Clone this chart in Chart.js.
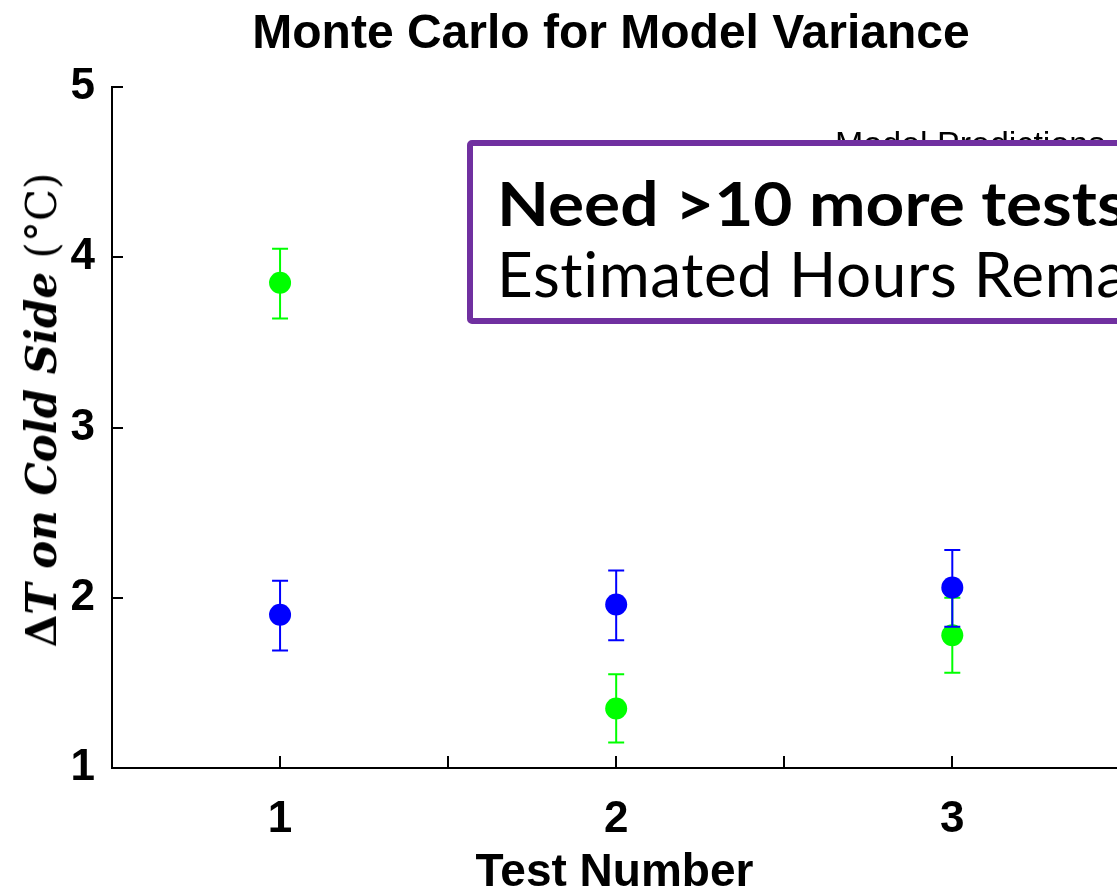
<!DOCTYPE html>
<html>
<head>
<meta charset="utf-8">
<title>Monte Carlo for Model Variance</title>
<script src="https://cdn.jsdelivr.net/npm/chart.js@4/dist/chart.umd.min.js"></script>
<style>
  html, body { margin: 0; padding: 0; background: #fff; overflow: hidden; }
  #wrap { position: relative; width: 1117px; height: 892px; overflow: hidden; }
  #chart { position: absolute; left: 0; top: 0; }
  .title {
    position: absolute; left: 611px; top: 8px; transform: translateX(-50%);
    font: bold 48px 'Liberation Sans', Arial, sans-serif; line-height: 1;
    white-space: nowrap; color: #000;
  }
  .ylab {
    position: absolute; left: 42px; top: 410px;
    transform: translate(-50%, -50%) rotate(-90deg);
    font: 42px 'DejaVu Serif', serif; line-height: 1; white-space: nowrap; color: #000;
  }
  .legendText {
    position: absolute; left: 835px; top: 126px; z-index: 1;
    font: 34px 'Liberation Sans', Arial, sans-serif; line-height: 1; white-space: nowrap;
  }
  .note {
    position: absolute; left: 467px; top: 140px; width: 900px; height: 184px; z-index: 2;
    box-sizing: border-box; border: 6px solid #7030a0; border-radius: 5px; background: #fff;
  }
  .note div {
    position: absolute; left: 24px; white-space: nowrap; color: #000;
    font-family: Lato, 'Open Sans', sans-serif; font-size: 62px; line-height: 1;
    transform-origin: left top;
  }
  .note .l1 { top: 25px; font-weight: bold; transform: scaleX(1.09); }
  .note .l2 { top: 96px; font-weight: normal; letter-spacing: 0.6px; }
</style>
</head>
<body>
<div id="wrap">
  <canvas id="chart" width="1117" height="892"></canvas>
  <div class="title">Monte Carlo for Model Variance</div>
  <div class="ylab"><b>Δ</b><b><i>T on Cold Side</i></b> (°C)</div>
  <div class="legendText">Model Predictions</div>
  <div class="note">
    <div class="l1">Need &gt;10 more tests</div>
    <div class="l2">Estimated Hours Remaining</div>
  </div>
</div>
<script>
// Data
const tests = [1, 2, 3];

const modelMean = [1.90, 1.96, 2.06];
const modelLow = [1.69, 1.75, 1.83];
const modelHigh = [2.10, 2.16, 2.28];

const testMean = [3.85, 1.35, 1.78];
const testLow = [3.64, 1.15, 1.56];
const testHigh = [4.05, 1.55, 2.00];

const xTickLabels = [1, 2, 3];
const xTickMarks = [1, 1.5, 2, 2.5, 3, 3.5];
const yTickLabels = [1, 2, 3, 4, 5];

// Colors
const blueColor = '#0000ff',
	greenColor = '#00ff00',
	axisColor = '#000000';

const tickFont = { family: "'Liberation Sans', Arial, sans-serif", size: 44, weight: 'bold' };

// error bars, drawn just before each dataset's markers
const errorBars = {
	id: 'errorBars',
	beforeDatasetDraw(chart, args) {
		const ds = chart.data.datasets[args.index];
		const { ctx, scales: { x, y } } = chart;
		ctx.save();
		ctx.strokeStyle = ds.borderColor;
		ctx.lineWidth = 2;
		ctx.beginPath();
		tests.forEach(function(t, i) {
			const px = x.getPixelForValue(t);
			const top = y.getPixelForValue(ds.errHigh[i]);
			const bot = y.getPixelForValue(ds.errLow[i]);
			ctx.moveTo(px, top);
			ctx.lineTo(px, bot);
			ctx.moveTo(px - 8, top);
			ctx.lineTo(px + 8, top);
			ctx.moveTo(px - 8, bot);
			ctx.lineTo(px + 8, bot);
		});
		ctx.stroke();
		ctx.restore();
	}
};

// tick marks pointing into the plot, like MATLAB
const innerTicks = {
	id: 'innerTicks',
	afterDatasetsDraw(chart) {
		const { ctx, chartArea, scales: { x, y } } = chart;
		ctx.save();
		ctx.strokeStyle = axisColor;
		ctx.lineWidth = 2;
		ctx.beginPath();
		xTickMarks.forEach(function(v) {
			const px = Math.round(x.getPixelForValue(v));
			if (px > chartArea.right) return;
			ctx.moveTo(px, chartArea.bottom);
			ctx.lineTo(px, chartArea.bottom - 12);
		});
		yTickLabels.forEach(function(v) {
			const py = Math.round(y.getPixelForValue(v));
			ctx.moveTo(chartArea.left, py);
			ctx.lineTo(chartArea.left + 11, py);
		});
		ctx.stroke();
		ctx.restore();
	}
};

new Chart(document.getElementById('chart'), {
	type: 'scatter',
	data: {
		datasets: [
			{
				label: 'Model Predictions',
				data: tests.map((t, i) => ({ x: t, y: modelMean[i] })),
				errLow: modelLow,
				errHigh: modelHigh,
				backgroundColor: blueColor,
				borderColor: blueColor,
				pointRadius: 11,
				pointHoverRadius: 11,
				borderWidth: 0
			},
			{
				label: 'Test Data',
				data: tests.map((t, i) => ({ x: t, y: testMean[i] })),
				errLow: testLow,
				errHigh: testHigh,
				backgroundColor: greenColor,
				borderColor: greenColor,
				pointRadius: 11,
				pointHoverRadius: 11,
				borderWidth: 0
			}
		]
	},
	options: {
		responsive: false,
		animation: false,
		events: [],
		layout: { autoPadding: false, padding: { top: 87, right: 0, left: 0, bottom: 0 } },
		plugins: {
			legend: { display: false },
			tooltip: { enabled: false },
			title: { display: false }
		},
		scales: {
			x: {
				type: 'linear',
				min: 0.5,
				max: 3.49,
				afterBuildTicks: function(scale) {
					scale.ticks = xTickLabels.map(v => ({ value: v }));
				},
				afterFit: function(scale) { scale.height = 124; },
				grid: { display: false },
				border: { display: true, color: axisColor, width: 2 },
				ticks: { color: '#000', font: tickFont, padding: 17 },
				title: {
					display: true,
					text: 'Test Number',
					color: '#000',
					font: { family: "'Liberation Sans', Arial, sans-serif", size: 46, weight: 'bold', lineHeight: 1 },
					padding: { top: 0, bottom: -4 }
				}
			},
			y: {
				type: 'linear',
				min: 1,
				max: 5,
				afterBuildTicks: function(scale) {
					scale.ticks = yTickLabels.map(v => ({ value: v }));
				},
				afterFit: function(scale) { scale.width = 112; },
				grid: { display: false },
				border: { display: true, color: axisColor, width: 2 },
				ticks: { color: '#000', font: tickFont, padding: 9 }
			}
		}
	},
	plugins: [errorBars, innerTicks]
});
</script>
</body>
</html>
